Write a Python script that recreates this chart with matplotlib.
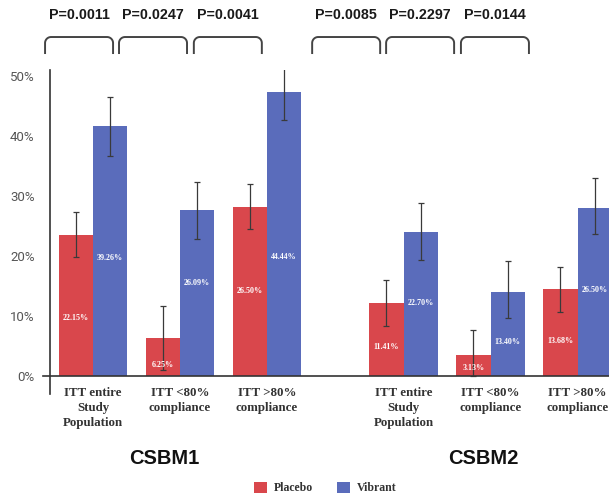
import numpy as np
import matplotlib
matplotlib.use("Agg")
import matplotlib.pyplot as plt
from matplotlib.patches import Patch

# ---------------- data ----------------
categories = ["ITT entire\nStudy\nPopulation", "ITT <80%\ncompliance", "ITT >80%\ncompliance",
              "ITT entire\nStudy\nPopulation", "ITT <80%\ncompliance", "ITT >80%\ncompliance"]
groups = ["CSBM1", "CSBM2"]
placebo = [23.5, 6.3, 28.2, 12.2, 3.5, 14.5]
vibrant = [41.7, 27.7, 47.3, 24.0, 14.0, 28.0]
placebo_err_low = [3.7, 5.3, 3.7, 3.9, 3.5, 3.8]
placebo_err_high = [3.8, 5.4, 3.8, 3.8, 4.2, 3.7]
vibrant_err_low = [5.0, 4.9, 4.6, 4.7, 4.3, 4.3]
vibrant_err_high = [4.8, 4.6, 5.0, 4.8, 5.2, 5.0]
placebo_labels = ["22.15%", "6.25%", "26.50%", "11.41%", "3.13%", "13.68%"]
vibrant_labels = ["39.26%", "26.09%", "44.44%", "22.70%", "13.40%", "26.50%"]
p_values = ["P=0.0011", "P=0.0247", "P=0.0041", "P=0.0085", "P=0.2297", "P=0.0144"]
series_names = ["Placebo", "Vibrant"]
yticks = [0, 10, 20, 30, 40, 50]

# ---------------- layout ----------------
x = np.array([0, 1, 2, 3.57, 4.57, 5.57])
width = 0.395
red = "#D9474C"
blue = "#5A6CBB"
label_frac_p = [0.41, 0.29, 0.50, 0.39, 0.37, 0.40]
label_frac_v = [0.47, 0.56, 0.42, 0.51, 0.41, 0.51]
bracket_centers = [-0.16, 0.69, 1.55, 2.91, 3.76, 4.62]
group_centers = [0.82, 4.49]

fig = plt.figure(figsize=(6.09, 4.94), dpi=100)
ax = fig.add_axes([50/609, 0.2024, 1 - 50/609, 324/494])

ax.bar(x - width/2, placebo, width, color=red, zorder=2)
ax.bar(x + width/2, vibrant, width, color=blue, zorder=2)
ax.errorbar(x - width/2, placebo, yerr=[placebo_err_low, placebo_err_high], fmt="none",
            ecolor="#3a3a3a", elinewidth=0.9, capsize=2.5, capthick=0.9, zorder=3)
ax.errorbar(x + width/2, vibrant, yerr=[vibrant_err_low, vibrant_err_high], fmt="none",
            ecolor="#3a3a3a", elinewidth=0.9, capsize=2.5, capthick=0.9, zorder=3)

for xi, h, f, lab in zip(x - width/2, placebo, label_frac_p, placebo_labels):
    ax.text(xi, h * f, lab, color="white", fontsize=5.8, fontweight="bold",
            ha="center", va="center", family="Liberation Serif", zorder=4)
for xi, h, f, lab in zip(x + width/2, vibrant, label_frac_v, vibrant_labels):
    ax.text(xi, h * f, lab, color="white", fontsize=5.8, fontweight="bold",
            ha="center", va="center", family="Liberation Serif", zorder=4)

ax.set_xlim(-0.494, 5.931)
ax.set_ylim(-3, 51)
ax.set_yticks(yticks)
ax.set_yticklabels([f"{t}%" for t in yticks], color="#555555", fontsize=9.5, family="Roboto")
ax.tick_params(axis="y", length=0, pad=11)
ax.set_xticks([])
for s in ["top", "right", "bottom"]:
    ax.spines[s].set_visible(False)
ax.spines["left"].set_color("#333333")
ax.spines["left"].set_linewidth(1.2)
ax.axhline(0, xmin=-0.012, xmax=1, color="#333333", lw=1.2, clip_on=False, zorder=5)

# category labels
for xi, c in zip(x, categories):
    ax.text(xi, -1.9, c, ha="center", va="top", fontsize=9.3, fontweight="bold",
            color="#333333", family="Liberation Serif", linespacing=1.33)

# group labels
for gx, g in zip(group_centers, groups):
    ax.text(gx, -13.8, g, ha="center", va="center", fontsize=14.5, fontweight="bold",
            color="#111111", family="Liberation Sans")

# brackets with P values
px_x = 87.0   # pixels per x unit
px_y = 6.0    # pixels per y unit
half_w = 34.0
leg = 17.0
r = 6.0
top_y = 56.5
for bc, p in zip(bracket_centers, p_values):
    th = np.linspace(0, np.pi/2, 12)
    lx = [-half_w] + list(-half_w + r - r*np.cos(th)) + list(half_w - r + r*np.sin(th)) + [half_w]
    ly = [-leg] + list(-r + r*np.sin(th)) + list(-r + r*np.cos(th)) + [-leg]
    xs = bc + np.array(lx) / px_x
    ys = top_y + np.array(ly) / px_y
    ax.plot(xs, ys, color="#444444", lw=1.4, clip_on=False, solid_capstyle="butt")
    ax.text(bc, 60.2, p, ha="center", va="center", fontsize=10.3, fontweight="bold",
            color="#1a1a1a", family="Liberation Sans")

handles = [Patch(facecolor=red, label=series_names[0]), Patch(facecolor=blue, label=series_names[1])]
fig.legend(handles=handles, loc="center", bbox_to_anchor=(325/609, 1 - 488/494), ncol=2,
           frameon=False, prop={"family": "Liberation Serif", "weight": "bold", "size": 8.5},
           handlelength=1.1, handleheight=1.1, columnspacing=2.0, handletextpad=0.6,
           labelcolor="#333333")

fig.savefig("out.png", dpi=100, facecolor="white")
